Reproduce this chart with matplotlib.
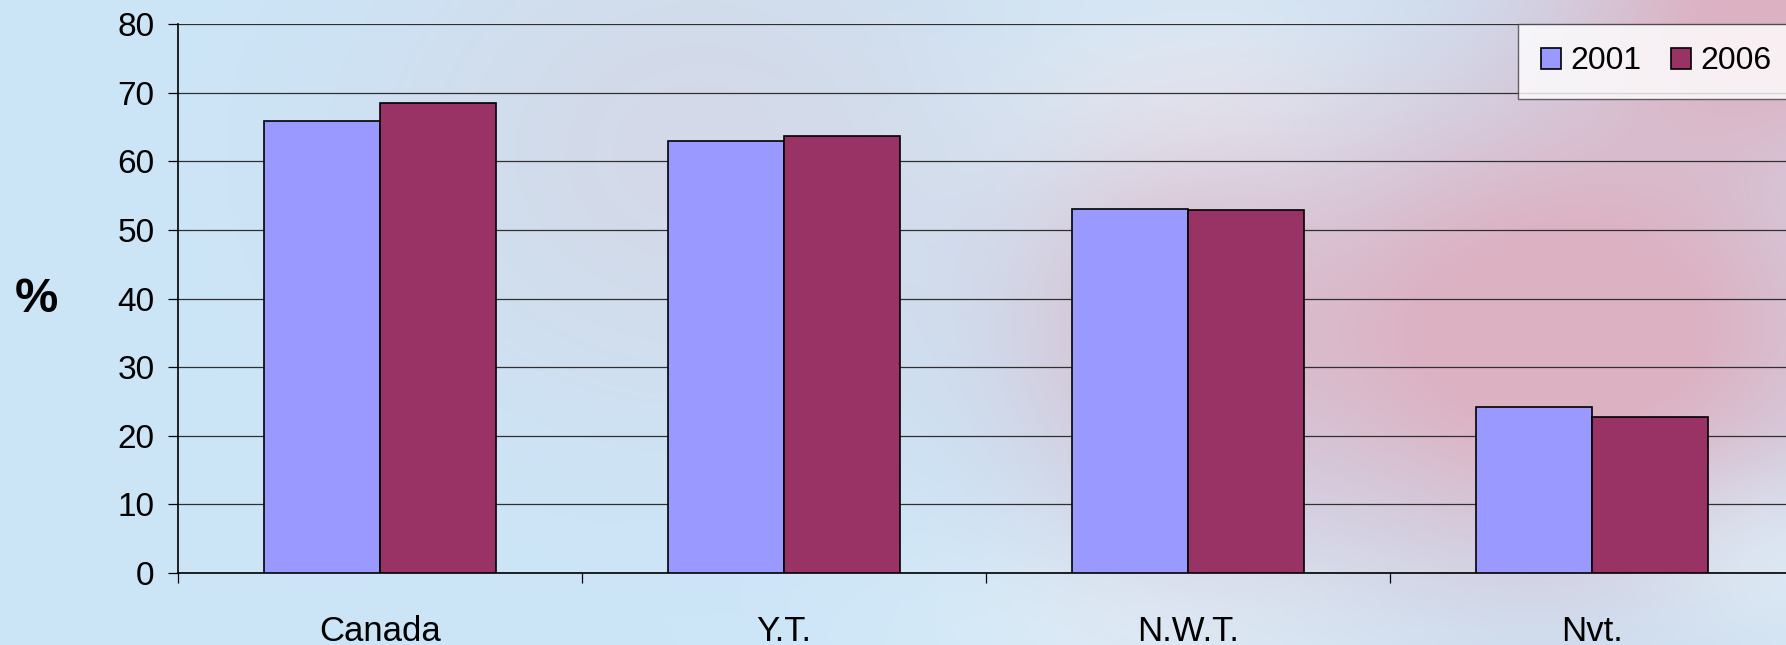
import numpy as np
import matplotlib
matplotlib.use('Agg')
import matplotlib.pyplot as plt

# data
regions = ['Canada', 'Y.T.', 'N.W.T.', 'Nvt.']
years = ['2001', '2006']
vals_2001 = [65.8, 63.0, 53.1, 24.2]
vals_2006 = [68.5, 63.7, 52.9, 22.7]
bar_colors = ['#9999FF', '#993366']

plt.rcParams['font.family'] = ['Liberation Sans', 'DejaVu Sans']

fig = plt.figure(figsize=(17.86, 6.45), dpi=100)

# faded background (light blue with a blurred pink leaf on the right)
H, W = 129, 357
yy, xx = np.mgrid[0:H, 0:W]
xx = xx / W * 1786
yy = yy / H * 645
base = np.array([203, 230, 248], float)
pink = np.array([220, 178, 195], float)
lav = np.array([214, 214, 228], float)
white = np.array([228, 241, 249], float)

def blob(cx, cy, sx, sy):
    return np.exp(-(((xx - cx) / sx) ** 2 + ((yy - cy) / sy) ** 2))

def mix(img, col, wgt):
    wgt = np.clip(wgt, 0, 1)[..., None]
    return img * (1 - wgt) + col * wgt

img = np.ones((H, W, 3)) * base
img = mix(img, lav, 0.8 * blob(700, 150, 350, 280))
img = mix(img, white, 0.9 * blob(1200, 110, 200, 130) + 0.7 * blob(1150, 620, 260, 110))
img = mix(img, pink, 1.2 * blob(1560, 330, 330, 230) + 1.0 * blob(1786, 0, 220, 140)
          + 0.5 * blob(1150, 330, 150, 200))
img = mix(img, white, 0.6 * blob(1786, 560, 150, 90))

bg = fig.add_axes([0, 0, 1, 1], zorder=-10)
bg.imshow(img / 255.0, aspect='auto', interpolation='bicubic', extent=[0, 1, 0, 1])
bg.axis('off')

ax = fig.add_axes([0.0997, 0.1116, 0.9048, 0.8512])
ax.patch.set_alpha(0)

x = np.arange(len(regions))
w = 0.287
ax.bar(x - w / 2, vals_2001, w, color=bar_colors[0], edgecolor='black', linewidth=1.2, label=years[0], zorder=3)
ax.bar(x + w / 2, vals_2006, w, color=bar_colors[1], edgecolor='black', linewidth=1.2, label=years[1], zorder=3)

ax.set_xlim(-0.5, len(regions) - 0.5)
ax.set_ylim(0, 80)
ax.set_yticks(np.arange(0, 81, 10))
ax.yaxis.grid(True, color='#303030', linewidth=0.9, zorder=0)
ax.tick_params(axis='y', labelsize=24, length=7, width=0.9, pad=10, colors='black')

ax.set_xticks(np.arange(-0.5, len(regions) - 0.4, 1.0))
ax.set_xticklabels([])
ax.set_xticks(x, minor=True)
ax.set_xticklabels(regions, minor=True)
ax.tick_params(axis='x', which='major', length=7, width=0.9)
ax.tick_params(axis='x', which='minor', length=0, labelsize=25, pad=30)

for s in ['top', 'right']:
    ax.spines[s].set_visible(False)
ax.spines['left'].set_linewidth(1.2)
ax.spines['bottom'].set_linewidth(1.2)

fig.text(36 / 1786, 1 - 300 / 645, '%', fontsize=35, fontweight='bold', ha='center', va='center')

leg = ax.legend(loc='upper right', bbox_to_anchor=(1, 1), ncol=2, fontsize=23,
                frameon=True, fancybox=False, borderpad=0.7, handlelength=0.63,
                handleheight=0.63, handletextpad=0.31, columnspacing=0.9,
                borderaxespad=0)
leg.get_frame().set_edgecolor('#404040')
leg.get_frame().set_linewidth(1.0)
leg.get_frame().set_facecolor((1, 1, 1, 0.3))

fig.savefig('out.png', dpi=100)
